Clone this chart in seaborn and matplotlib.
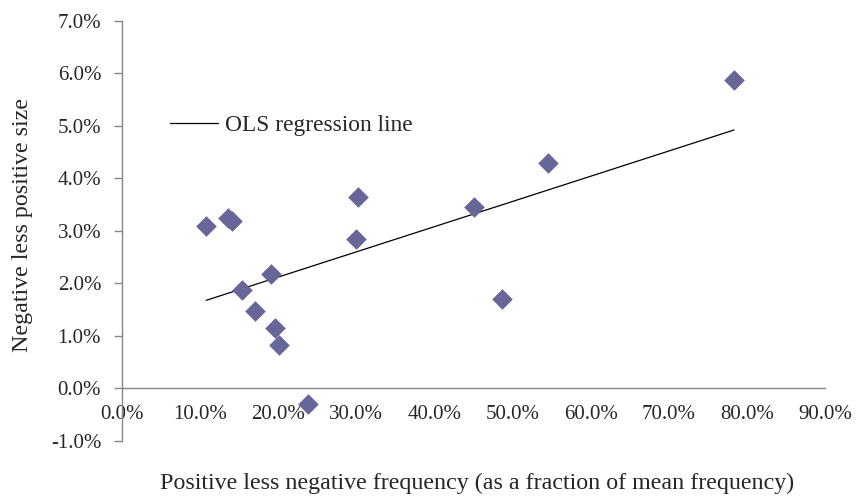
import numpy as np
import pandas as pd
import matplotlib
matplotlib.use("Agg")
import matplotlib.pyplot as plt
import seaborn as sns

# Data (percent units)
freq_diff = [10.76, 13.57, 14.08, 15.36, 17.03, 19.08, 19.59, 20.10, 23.82,
             29.96, 30.22, 45.07, 48.66, 54.55, 78.36]
size_diff = [3.10, 3.24, 3.18, 1.87, 1.47, 2.17, 1.16, 0.82, -0.29,
             2.84, 3.64, 3.45, 1.71, 4.30, 5.87]
x_ticks = [0, 10, 20, 30, 40, 50, 60, 70, 80, 90]
x_tick_labels = ["0.0%", "10.0%", "20.0%", "30.0%", "40.0%", "50.0%",
                 "60.0%", "70.0%", "80.0%", "90.0%"]
y_ticks = [-1, 0, 1, 2, 3, 4, 5, 6, 7]
y_tick_labels = ["-1.0%", "0.0%", "1.0%", "2.0%", "3.0%", "4.0%",
                 "5.0%", "6.0%", "7.0%"]
legend_label = "OLS regression line"
x_label = "Positive less negative frequency (as a fraction of mean frequency)"
y_label = "Negative less positive size"

df = pd.DataFrame({"x": freq_diff, "y": size_diff})

sns.set_style("white")
plt.rcParams["font.family"] = ["Liberation Serif", "DejaVu Serif"]
FS_TICK = 15
FS_LAB = 17.3
FS_LEG = 16.8

fig = plt.figure(figsize=(8.56, 4.96), dpi=100)
ax = fig.add_axes([122 / 856, 1 - 441 / 496, (825 - 122) / 856, (441 - 20.7) / 496])

sns.regplot(data=df, x="x", y="y", ax=ax, scatter=False, ci=None, truncate=True,
            label=legend_label,
            line_kws=dict(color="black", linewidth=0.9))
sns.scatterplot(data=df, x="x", y="y", ax=ax, marker="D", s=110,
                color="#666699", linewidth=0, zorder=3, legend=False)

ax.set_xlim(0, 90)
ax.set_ylim(-1, 7)

ax.spines["top"].set_visible(False)
ax.spines["right"].set_visible(False)
ax.spines["bottom"].set_position(("data", 0))
for sp in ("left", "bottom"):
    ax.spines[sp].set_color("#868686")
    ax.spines[sp].set_linewidth(1.0)

ax.set_xticks(x_ticks)
ax.set_xticklabels(x_tick_labels, fontsize=FS_TICK)
ax.set_yticks(y_ticks)
ax.set_yticklabels(y_tick_labels, fontsize=FS_TICK)
ax.tick_params(axis="x", length=0, pad=12)
ax.tick_params(axis="y", length=6, width=1.0, color="#868686", direction="out",
               left=True, pad=9)

ax.set_xlabel(x_label, fontsize=FS_LAB)
ax.xaxis.set_label_coords(0.505, -0.1)
ax.xaxis.label.set_va("center")
ax.set_ylabel(y_label, fontsize=FS_LAB)
ax.yaxis.set_label_coords(-0.142, 0.515)
ax.yaxis.label.set_va("center")

handles, labels = ax.get_legend_handles_labels()
leg = ax.legend(handles, labels, loc="center left", bbox_to_anchor=(0.068, 0.75),
                frameon=False, fontsize=FS_LEG, handlelength=2.05,
                handletextpad=0.3, borderpad=0, borderaxespad=0)

fig.savefig("out.png", dpi=100)
